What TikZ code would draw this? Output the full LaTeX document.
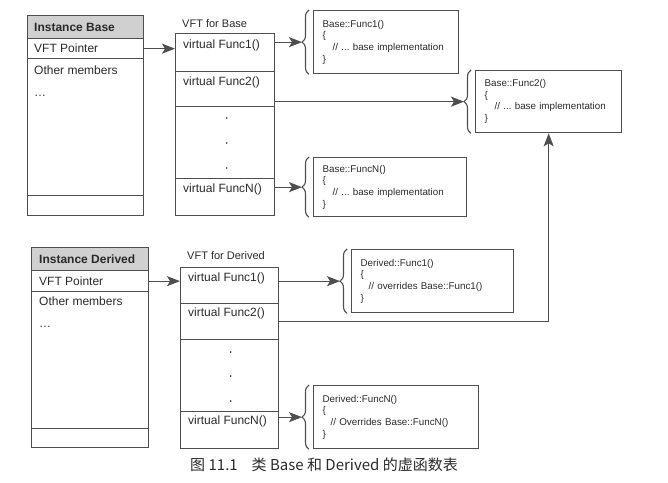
\documentclass[tikz,border=0pt]{standalone}
\usepackage{fontspec}
\setmainfont{Liberation Sans}
\newfontfamily\cjk{Noto Sans CJK SC}
\usetikzlibrary{arrows.meta,decorations.pathreplacing,positioning}
\frenchspacing
\definecolor{linegray}{HTML}{4E4E4E}
\definecolor{textgray}{HTML}{2A2A2A}
\definecolor{headfill}{HTML}{D0D0D0}
\tikzset{
  cell/.style={draw=linegray, line width=1.3pt, anchor=north west, inner sep=0pt, minimum width=#1},
  celltext/.style={anchor=west, text=textgray, font=\fontsize{12}{14}\selectfont, inner sep=0pt},
  code/.style={draw=linegray, line width=1.3pt, anchor=north west, align=left, inner xsep=9pt,
    text width=#1, text=textgray, font=\fontsize{9.8}{11.6}\selectfont},
  arr/.style={draw=linegray, line width=1.3pt, -{Stealth[length=13pt,width=10pt,inset=3pt]}},
  brace/.style={draw=linegray, line width=1.1pt, decorate, decoration={brace, amplitude=7pt}},
  tbltitle/.style={text=textgray, font=\fontsize{11}{13}\selectfont, anchor=west, inner sep=0pt},
  vdot/.style={fill=textgray}
}
\begin{document}
\begin{tikzpicture}[x=1pt, y=-1pt]
  \useasboundingbox (0,0) rectangle (668,482);

  % Instance Base
  \node[cell=116pt, minimum height=23pt, fill=headfill] (ibhead) at (27,15) {};
  \node[cell=116pt, minimum height=20pt] (ibptr) at (27,38) {};
  \node[cell=116pt, minimum height=137pt] (ibmem) at (27,58) {};
  \node[cell=116pt, minimum height=20pt] (ibend) at (27,195) {};
  \node[celltext, font=\bfseries\fontsize{12}{14}\selectfont] (ibheadt) at ([xshift=7pt]ibhead.west) {Instance Base};
  \node[celltext] (ibptrt) at ([xshift=7pt]ibptr.west) {VFT Pointer};
  \node[celltext] (ibmemt) at ([xshift=7pt,yshift=-12pt]ibmem.north west) {Other members};
  \node[celltext] (ibdots) at ([xshift=7pt,yshift=-38pt]ibmem.north west) {\ldots};

  % VFT for Base
  \node[tbltitle] (vbtitle) at (182,24) {VFT for Base};
  \node[cell=99pt, minimum height=38pt] (vb1) at (175,33) {};
  \node[cell=99pt, minimum height=35pt] (vb2) at (175,71) {};
  \node[cell=99pt, minimum height=72pt] (vbdots) at (175,106) {};
  \node[cell=99pt, minimum height=37pt] (vbn) at (175,178) {};
  \node[celltext] (vb1t) at ([xshift=8pt,yshift=-12pt]vb1.north west) {virtual Func1()};
  \node[celltext] (vb2t) at ([xshift=8pt,yshift=-11pt]vb2.north west) {virtual Func2()};
  \node[celltext] (vbnt) at ([xshift=8pt,yshift=-11pt]vbn.north west) {virtual FuncN()};
  \foreach \d in {12,37,62}
    \fill[vdot] ([xshift=1.5pt,yshift=-\d pt]vbdots.north) circle (0.9pt);

  % Base implementations
  \node[code=127pt, minimum height=63pt] (cb1) at (313,10)
    {Base::Func1()\\\{\\\hspace*{10pt}// ... base implementation\\\}};
  \node[code=128pt, minimum height=62pt] (cb2) at (475,70)
    {Base::Func2()\\\{\\\hspace*{10pt}// ... base implementation\\\}};
  \node[code=135pt, minimum height=59pt] (cbn) at (313,157)
    {Base::FuncN()\\\{\\\hspace*{10pt}// ... base implementation\\\}};
  \draw[brace] ([xshift=-4pt]cb1.south west) -- ([xshift=-4pt]cb1.north west);
  \draw[brace] ([xshift=-4pt]cb2.south west) -- ([xshift=-4pt]cb2.north west);
  \draw[brace] ([xshift=-4pt]cbn.south west) -- ([xshift=-4pt]cbn.north west);
  \coordinate (cb1tip) at ([xshift=-11pt]cb1.west);
  \coordinate (cb2tip) at ([xshift=-11pt]cb2.west);
  \coordinate (cbntip) at ([xshift=-11pt]cbn.west);

  % Instance Derived
  \node[cell=117pt, minimum height=23pt, fill=headfill] (idhead) at (31,247) {};
  \node[cell=117pt, minimum height=21pt] (idptr) at (31,270) {};
  \node[cell=117pt, minimum height=137pt] (idmem) at (31,291) {};
  \node[cell=117pt, minimum height=19pt] (idend) at (31,428) {};
  \node[celltext, font=\bfseries\fontsize{12}{14}\selectfont] (idheadt) at ([xshift=8pt]idhead.west) {Instance Derived};
  \node[celltext] (idptrt) at ([xshift=8pt]idptr.west) {VFT Pointer};
  \node[celltext] (idmemt) at ([xshift=8pt,yshift=-10pt]idmem.north west) {Other members};
  \node[celltext] (iddots) at ([xshift=8pt,yshift=-36pt]idmem.north west) {\ldots};

  % VFT for Derived
  \node[tbltitle] (vdtitle) at (187,256) {VFT for Derived};
  \node[cell=98pt, minimum height=36pt] (vd1) at (180,267) {};
  \node[cell=98pt, minimum height=36pt] (vd2) at (180,303) {};
  \node[cell=98pt, minimum height=72pt] (vddots) at (180,339) {};
  \node[cell=98pt, minimum height=37pt] (vdn) at (180,411) {};
  \node[celltext] (vd1t) at ([xshift=8pt,yshift=-11pt]vd1.north west) {virtual Func1()};
  \node[celltext] (vd2t) at ([xshift=8pt,yshift=-10pt]vd2.north west) {virtual Func2()};
  \node[celltext] (vdnt) at ([xshift=8pt,yshift=-10pt]vdn.north west) {virtual FuncN()};
  \foreach \d in {13,37,62}
    \fill[vdot] ([xshift=1pt,yshift=-\d pt]vddots.north) circle (0.9pt);

  % Derived implementations
  \node[code=144pt, minimum height=63pt] (cd1) at (351,249)
    {Derived::Func1()\\\{\\\hspace*{8pt}// overrides Base::Func1()\\\}};
  \node[code=147pt, minimum height=63pt] (cdn) at (313,385)
    {Derived::FuncN()\\\{\\\hspace*{8pt}// Overrides Base::FuncN()\\\}};
  \draw[brace] ([xshift=-4pt]cd1.south west) -- ([xshift=-4pt]cd1.north west);
  \draw[brace] ([xshift=-4pt]cdn.south west) -- ([xshift=-4pt]cdn.north west);
  \coordinate (cd1tip) at ([xshift=-11pt]cd1.west);
  \coordinate (cdntip) at ([xshift=-11pt]cdn.west);

  % Pointers
  \draw[arr] (ibptr.east) -- (vb1.west |- ibptr.east);
  \draw[arr] (idptr.east) -- (vd1.west |- idptr.east);
  \draw[arr] (vb1.east |- cb1tip) -- (cb1tip);
  \draw[arr] (vb2.east |- cb2tip) -- (cb2tip);
  \draw[arr] (vbn.east |- cbntip) -- (cbntip);
  \draw[arr] (vd1.east |- cd1tip) -- (cd1tip);
  \draw[arr] (vd2.east) -| (cb2.south);
  \draw[arr] (vdn.east |- cdntip) -- (cdntip);

  % Caption
  \node[font=\cjk\fontsize{15}{18}\selectfont, text=textgray] (caption) at (324,465)
    {图 11.1\hspace{14pt}类 Base 和 Derived 的虚函数表};
\end{tikzpicture}
\end{document}
